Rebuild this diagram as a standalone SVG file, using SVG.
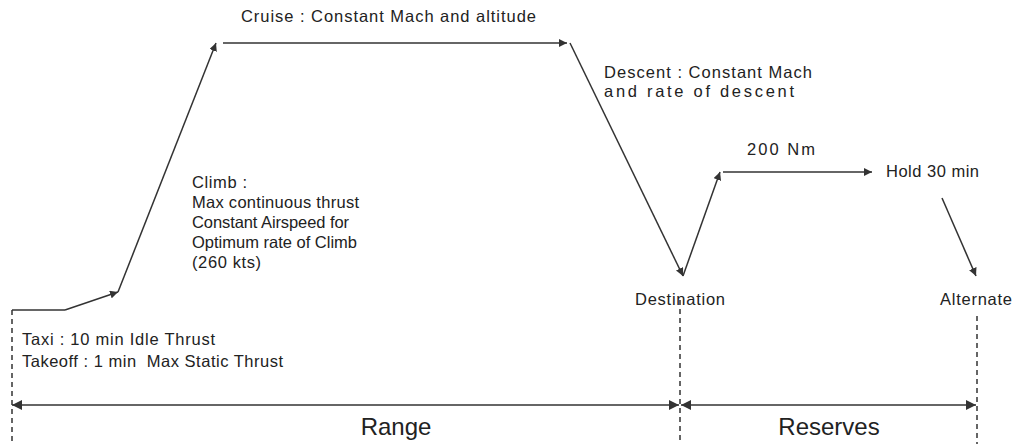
<svg xmlns="http://www.w3.org/2000/svg" width="1016" height="444" viewBox="0 0 1016 444">
<style>
text{font-family:"Liberation Sans",Arial,sans-serif;font-size:16.5px;fill:#222;white-space:pre}
.big{font-size:24px}
.ln{stroke:#333;stroke-width:1.5;fill:none}
.dash{stroke:#333;stroke-width:1.5;stroke-dasharray:5,4;fill:none}
</style>
<defs>
<marker id="ah" viewBox="0 0 10 10" refX="10" refY="5" markerWidth="8" markerHeight="8" markerUnits="userSpaceOnUse" orient="auto"><path d="M0,0 L10,5 L0,10 z" fill="#333"/></marker>
<marker id="ah2" viewBox="0 0 10 10" refX="10" refY="5" markerWidth="10" markerHeight="10" markerUnits="userSpaceOnUse" orient="auto-start-reverse"><path d="M0,0 L10,5 L0,10 z" fill="#333"/></marker>
</defs>
<rect width="1016" height="444" fill="#fff"/>
<g id="connectors">
<path class="ln" d="M12,310 H65"/>
<path class="ln" d="M65,310 L118,292" marker-end="url(#ah)"/>
<path class="ln" d="M118,292 L216,43" marker-end="url(#ah)"/>
<path class="ln" d="M223,43 H567" marker-end="url(#ah)"/>
<path class="ln" d="M570,43 L683,276" marker-end="url(#ah)"/>
<path class="ln" d="M683,276 L720,172" marker-end="url(#ah)"/>
<path class="ln" d="M723,172 H872" marker-end="url(#ah)"/>
<path class="ln" d="M942,198 L976,276" marker-end="url(#ah)"/>
<path class="dash" d="M12,310 V444"/>
<path class="dash" d="M680,300 V444"/>
<path class="dash" d="M977,316 V444"/>
<path class="ln" d="M12,405 H679" marker-start="url(#ah2)" marker-end="url(#ah2)"/>
<path class="ln" d="M681,405 H976" marker-start="url(#ah2)" marker-end="url(#ah2)"/>
</g>
<g id="cruise"><text x="241" y="22" textLength="295">Cruise : Constant Mach and altitude</text></g>
<g id="descent"><text x="604" y="78" textLength="208">Descent : Constant Mach</text><text x="604" y="97" textLength="190">and rate of descent</text></g>
<g id="nm200"><text x="747" y="155" textLength="68">200 Nm</text></g>
<g id="hold"><text x="886" y="177" textLength="93">Hold 30 min</text></g>
<g id="climb"><text x="192" y="188" textLength="55">Climb :</text><text x="192" y="208" textLength="167">Max continuous thrust</text><text x="192" y="228" textLength="157">Constant Airspeed for</text><text x="192" y="248" textLength="165">Optimum rate of Climb</text><text x="192" y="268" textLength="69">(260 kts)</text></g>
<g id="destination"><text x="635" y="305" textLength="90">Destination</text></g>
<g id="alternate"><text x="940" y="305" textLength="72">Alternate</text></g>
<g id="taxi"><text x="22" y="345" textLength="193">Taxi : 10 min Idle Thrust</text><text x="22" y="367" textLength="261">Takeoff : 1 min  Max Static Thrust</text></g>
<g id="range"><text class="big" x="396" y="435" text-anchor="middle">Range</text></g>
<g id="reserves"><text class="big" x="829" y="435" text-anchor="middle">Reserves</text></g>
</svg>
